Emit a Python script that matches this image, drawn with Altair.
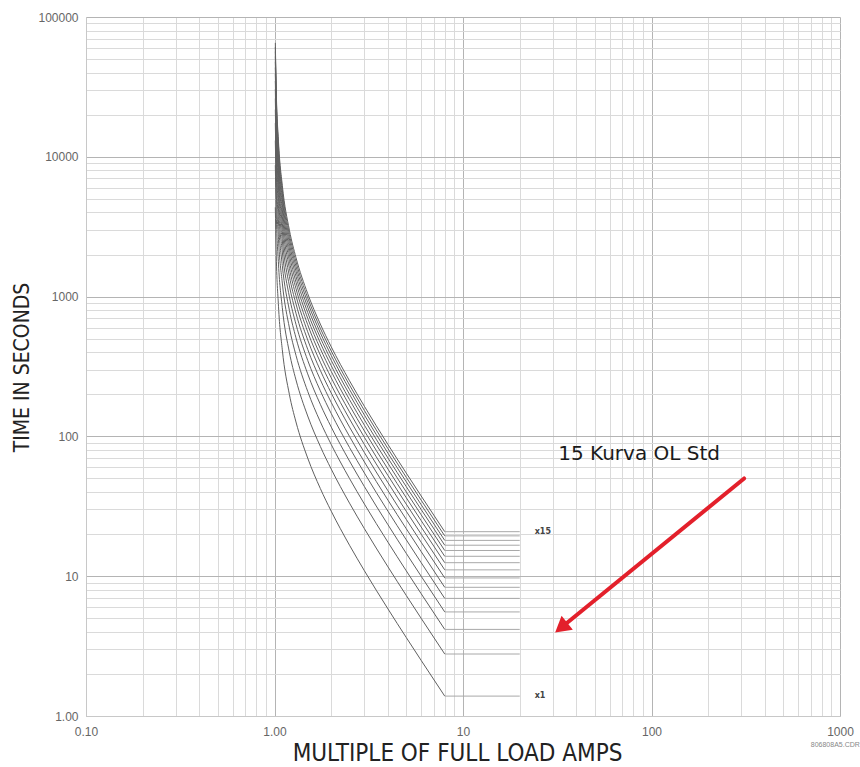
import altair as alt
import pandas as pd

# Multiple of full load amps at which the curve values were read
x_points = [1.01, 1.02, 1.05, 1.1, 1.2, 1.3, 1.5, 1.75, 2, 2.5, 3, 4, 5, 6, 8]
# end of the flat part of each curve
flat_end = 20

# Time in seconds read for each of the 15 curves (x1 ... x15)
curve_01 = [4354, 2166, 853.7, 416.7, 198.9, 126.8, 70.0, 42.41, 29.16, 16.66, 10.93, 5.83, 3.643, 2.498, 1.388]
curve_02 = [8708, 4332, 1707, 833.4, 397.8, 253.6, 140.0, 84.82, 58.32, 33.32, 21.86, 11.66, 7.286, 4.996, 2.776]
curve_03 = [13062, 6498, 2561, 1250, 596.7, 380.4, 210.0, 127.2, 87.48, 49.98, 32.79, 17.49, 10.93, 7.494, 4.164]
curve_04 = [17416, 8664, 3415, 1667, 795.6, 507.2, 280.0, 169.6, 116.6, 66.64, 43.72, 23.32, 14.57, 9.992, 5.552]
curve_05 = [21770, 10830, 4269, 2084, 994.5, 634.0, 350.0, 212.1, 145.8, 83.3, 54.65, 29.15, 18.22, 12.49, 6.94]
curve_06 = [26124, 12996, 5122, 2500, 1193, 760.8, 420.0, 254.5, 175.0, 99.96, 65.58, 34.98, 21.86, 14.99, 8.328]
curve_07 = [30478, 15162, 5976, 2917, 1392, 887.6, 490.0, 296.9, 204.1, 116.6, 76.51, 40.81, 25.50, 17.49, 9.716]
curve_08 = [34832, 17328, 6830, 3334, 1591, 1014, 560.0, 339.3, 233.3, 133.3, 87.44, 46.64, 29.14, 19.98, 11.10]
curve_09 = [39186, 19494, 7683, 3750, 1790, 1141, 630.0, 381.7, 262.4, 149.9, 98.37, 52.47, 32.79, 22.48, 12.49]
curve_10 = [43540, 21660, 8537, 4167, 1989, 1268, 700.0, 424.1, 291.6, 166.6, 109.3, 58.30, 36.43, 24.98, 13.88]
curve_11 = [47894, 23826, 9391, 4584, 2188, 1395, 770.0, 466.5, 320.8, 183.3, 120.2, 64.13, 40.07, 27.48, 15.27]
curve_12 = [52248, 25992, 10244, 5000, 2387, 1522, 840.0, 508.9, 349.9, 199.9, 131.2, 69.96, 43.72, 29.98, 16.66]
curve_13 = [56602, 28158, 11098, 5417, 2586, 1648, 910.0, 551.3, 379.1, 216.6, 142.1, 75.79, 47.36, 32.47, 18.04]
curve_14 = [60956, 30324, 11952, 5834, 2785, 1775, 980.0, 593.7, 408.2, 233.2, 153.0, 81.62, 51.00, 34.97, 19.43]
curve_15 = [65310, 32490, 12806, 6251, 2984, 1902, 1050, 636.2, 437.4, 249.9, 164.0, 87.45, 54.65, 37.47, 20.82]

curves = [curve_01, curve_02, curve_03, curve_04, curve_05, curve_06, curve_07, curve_08,
          curve_09, curve_10, curve_11, curve_12, curve_13, curve_14, curve_15]

# curve labels
label_text = ["x15", "x1"]
label_x = [24, 24]
label_y = [20.82, 1.388]

# annotation
note_text = ["15 Kurva OL Std"]
note_x = [32]
note_y = [75]
arrow_x = [310]
arrow_y = [50]
arrow_x2 = [34]
arrow_y2 = [4.4]

# drawing file reference in the corner
ref_text = ["806808A5.CDR"]
ref_x = [700]
ref_y = [0.62]

x_major = [0.1, 1, 10, 100, 1000]
y_major = [1, 10, 100, 1000, 10000, 100000]
x_grid = [m * d for d in [0.1, 1, 10, 100] for m in range(1, 10)] + [1000]
y_grid = [m * d for d in [1, 10, 100, 1000, 10000] for m in range(1, 10)] + [100000]

rows = []
flat_rows = []
for i, vals in enumerate(curves):
    for xv, tv in zip(x_points, vals):
        rows.append({"x": xv, "y": tv, "curve": i + 1})
    flat_rows.append({"x": x_points[-1], "y": vals[-1], "curve": i + 1})
    flat_rows.append({"x": flat_end, "y": vals[-1], "curve": i + 1})
df = pd.DataFrame(rows)
df_flat = pd.DataFrame(flat_rows)
df_labels = pd.DataFrame({"x": label_x, "y": label_y, "t": label_text})
df_note = pd.DataFrame({"x": note_x, "y": note_y, "t": note_text})
df_ref = pd.DataFrame({"x": ref_x, "y": ref_y, "t": ref_text})
df_arrow = pd.DataFrame({"x": arrow_x, "y": arrow_y, "x2": arrow_x2, "y2": arrow_y2})

major_test = "abs(log(datum.value)/LN10 - round(log(datum.value)/LN10)) < 0.001"
label_expr = ("(abs(log(datum.value)/LN10 - round(log(datum.value)/LN10)) < 0.001) ? "
              "(datum.value < 10 ? format(datum.value, '.2f') : format(datum.value, 'd')) : ''")
grid_color = {"condition": {"test": major_test, "value": "#b4b4b4"}, "value": "#dadada"}

narrow = "Liberation Sans Narrow, DejaVu Sans Condensed, Arial Narrow, sans-serif"

x_axis = alt.Axis(values=x_grid, labelExpr=label_expr, gridColor=grid_color, gridWidth=1,
                  ticks=False, labelOverlap=False, labelFlush=False, labelBound=False,
                  labelFont="Liberation Sans", labelFontSize=12, labelColor="#666",
                  labelPadding=10, domainColor="#c8c8c8",
                  title="MULTIPLE OF FULL LOAD AMPS", titleFont=narrow, titleFontSize=24,
                  titleFontWeight="normal", titleColor="#222", titleX=371, titleY=37,
                  titleBaseline="middle", titleAlign="center")
y_axis = alt.Axis(values=y_grid, labelExpr=label_expr, gridColor=grid_color, gridWidth=1,
                  ticks=False, labelOverlap=False, labelFlush=False, labelBound=False,
                  labelFont="Liberation Sans", labelFontSize=12, labelColor="#666",
                  labelPadding=8, domainColor="#c8c8c8",
                  title="TIME IN SECONDS", titleFont=narrow, titleFontSize=21,
                  titleFontWeight="normal", titleColor="#222", titleX=-64, titleY=350,
                  titleAngle=270, titleBaseline="middle", titleAlign="center")

X = alt.X("x:Q", scale=alt.Scale(type="log", domain=[0.1, 1000], nice=False), axis=x_axis)
Y = alt.Y("y:Q", scale=alt.Scale(type="log", domain=[1, 100000], nice=False), axis=y_axis)

curve_layer = alt.Chart(df).mark_line(color="#606060", strokeWidth=1, interpolate="monotone").encode(
    x=X, y=Y, detail="curve:N")
flat_layer = alt.Chart(df_flat).mark_line(color="#a8a8a8", strokeWidth=1).encode(
    x=X, y=Y, detail="curve:N")
label_layer = alt.Chart(df_labels).mark_text(align="left", baseline="middle", fontSize=8,
                                             font="DejaVu Sans", fontWeight="bold", color="#444").encode(
    x=X, y=Y, text="t:N")
note_layer = alt.Chart(df_note).mark_text(align="left", baseline="middle", fontSize=20,
                                          font="DejaVu Sans", color="#1a1a1a").encode(
    x=X, y=Y, text="t:N")
ref_layer = alt.Chart(df_ref).mark_text(align="left", baseline="middle", fontSize=7,
                                        font="Liberation Sans Narrow, Liberation Sans", color="#888",
                                        clip=False).encode(
    x=X, y=Y, text="t:N")
arrow_line = alt.Chart(df_arrow).mark_rule(color="#e3202b", strokeWidth=4, strokeCap="round").encode(
    x=X, y=Y, x2="x2:Q", y2="y2:Q")
arrow_head = alt.Chart(df_arrow).mark_point(shape="triangle", filled=True, size=320, angle=231,
                                            color="#e3202b", opacity=1).encode(
    x=alt.X("x2:Q", scale=alt.Scale(type="log", domain=[0.1, 1000], nice=False)),
    y=alt.Y("y2:Q", scale=alt.Scale(type="log", domain=[1, 100000], nice=False)))

chart = alt.layer(curve_layer, flat_layer, label_layer, note_layer, ref_layer, arrow_line, arrow_head).properties(
    width=754, height=699,
    autosize=alt.AutoSizeParams(type="none"),
    padding={"left": 86, "top": 17, "right": 20, "bottom": 51},
    background="white",
).configure_view(stroke=None)

chart.save("out.html", embed_options={"renderer": "svg", "actions": False})
